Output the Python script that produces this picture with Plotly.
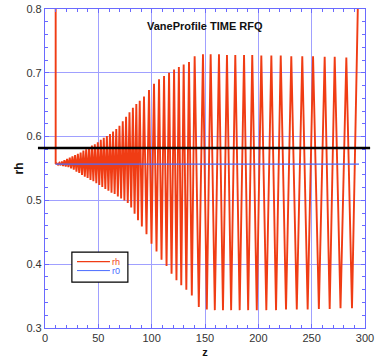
import plotly.graph_objects as go

# ---- data ----
peak_z = [11.0, 13.4, 15.8, 18.2, 20.7, 23.2, 25.7, 28.2, 30.8, 33.4, 36.0, 38.6,
          41.3, 44.0, 46.7, 49.5, 52.3, 55.1, 58.0, 60.9, 63.8, 66.8, 69.8, 72.9,
          76.0, 79.2, 82.4, 85.6, 88.8,
          92.8, 97.5, 102.2, 106.9, 111.6, 116.3, 121.0, 125.5, 130.0, 135.0, 140.3,
          148.1, 155.3, 163.1, 170.6, 178.4, 186.6, 194.3, 202.8, 212.2, 221.0,
          230.9, 241.2, 251.3, 262.2, 271.6, 282.5]
peak_rh = [0.558, 0.559, 0.561, 0.563, 0.565, 0.567, 0.569, 0.571, 0.573, 0.575, 0.578, 0.580,
           0.583, 0.586, 0.588, 0.591, 0.595, 0.598, 0.601, 0.604, 0.608, 0.612, 0.617, 0.624,
           0.631, 0.638, 0.645, 0.651, 0.656,
           0.663, 0.673, 0.683, 0.690, 0.695, 0.700, 0.705, 0.709, 0.713, 0.717, 0.726,
           0.729, 0.729, 0.729, 0.728, 0.728, 0.728, 0.728, 0.727, 0.727, 0.727,
           0.726, 0.726, 0.726, 0.725, 0.725, 0.724]
trough_z = [12.2, 14.6, 17.0, 19.45, 21.95, 24.45, 26.95, 29.5, 32.1, 34.7, 37.3, 39.95,
            42.65, 45.35, 48.1, 50.9, 53.7, 56.55, 59.45, 62.35, 65.3, 68.3, 71.35, 74.45,
            77.6, 80.8, 84.0, 87.2,
            90.8, 95.15, 99.85, 104.55, 109.25, 113.95, 118.65, 123.25, 127.75, 132.5, 137.65,
            144.2, 151.7, 159.2, 166.85, 174.5, 182.5, 190.45, 198.55, 207.5, 216.6,
            225.95, 236.05, 246.25, 256.75, 266.9, 277.05, 287.8]
trough_rh = [0.556, 0.555, 0.554, 0.553, 0.552, 0.550, 0.548, 0.545, 0.543, 0.540, 0.537, 0.535,
             0.532, 0.530, 0.527, 0.524, 0.521, 0.518, 0.515, 0.512, 0.510, 0.506, 0.503, 0.500,
             0.496, 0.489, 0.479, 0.469,
             0.459, 0.447, 0.432, 0.420, 0.407, 0.397, 0.385, 0.375, 0.367, 0.360, 0.351,
             0.333, 0.329, 0.328, 0.328, 0.328, 0.328, 0.328, 0.328, 0.328, 0.328,
             0.329, 0.329, 0.329, 0.330, 0.330, 0.331, 0.331]
start_z, start_rh = [10.0, 10.0], [0.9, 0.557]
end_z, end_rh = [294.4], [0.9]

r0_z = [10.0, 294.4]
r0 = [0.557, 0.557]

ref_level = 0.582

x_ticks = [0, 50, 100, 150, 200, 250, 300]
y_ticks = [0.3, 0.4, 0.5, 0.6, 0.7, 0.8]

series_names = ["rh", "r0"]

# ---- assemble rh series ----
ext = sorted(zip(peak_z + trough_z, peak_rh + trough_rh))
rh_z = start_z + [p[0] for p in ext] + end_z
rh = start_rh + [p[1] for p in ext] + end_rh

RED = "#f03c14"
BLUE = "#4a6cff"
AXC = "#6a6aff"
GRID = "#a0a0ff"

fig = go.Figure()
fig.add_trace(go.Scatter(x=rh_z, y=rh, mode="lines", name=series_names[0], showlegend=False,
                         line=dict(color=RED, width=1.9)))
fig.add_trace(go.Scatter(x=r0_z, y=r0, mode="lines", name=series_names[1], showlegend=False,
                         line=dict(color=BLUE, width=1.2)))

fig.add_shape(type="line", xref="paper", yref="y", x0=-0.022, x1=1.016,
              y0=ref_level, y1=ref_level, line=dict(color="black", width=2.5))

# compact legend box (paper coords)
lx0, lx1, ly0, ly1 = 0.084, 0.259, 0.144, 0.238
fig.add_shape(type="rect", xref="paper", yref="paper", x0=lx0, x1=lx1, y0=ly0, y1=ly1,
              line=dict(color="black", width=1.2), fillcolor="white", layer="above")
for i, (nm, col) in enumerate(zip(series_names, [RED, BLUE])):
    yy = 0.208 - i * 0.028
    fig.add_shape(type="line", xref="paper", yref="paper", x0=0.1, x1=0.203,
                  y0=yy, y1=yy, line=dict(color=col, width=1.4 if i == 0 else 1), layer="above")
    fig.add_annotation(text=nm, xref="paper", yref="paper", x=0.203, y=yy,
                       xanchor="left", yanchor="middle", showarrow=False,
                       font=dict(size=9, color=col))

fig.add_annotation(text="<b>VaneProfile TIME RFQ</b>", xref="paper", yref="paper",
                   x=0.5, y=0.948, xanchor="center", yanchor="middle", showarrow=False,
                   font=dict(size=11, color="#111"))

axis_common = dict(showline=True, linecolor=AXC, linewidth=1.2, mirror="ticks",
                   ticks="inside", ticklen=4, tickcolor=AXC, showgrid=True,
                   gridcolor=GRID, gridwidth=1, zeroline=False, automargin=False,
                   ticklabeloverflow="allow",
                   tickfont=dict(size=11, color="#333"))

fig.update_xaxes(range=[0, 300], tickvals=x_ticks,
                 minor=dict(ticks="inside", dtick=10, ticklen=3, tickcolor=AXC, showgrid=False),
                 title=dict(text="<b>z</b>", font=dict(size=11, color="#111"), standoff=9),
                 **axis_common)
fig.update_yaxes(range=[0.3, 0.8], tickvals=y_ticks, tickformat=".1f",
                 minor=dict(ticks="inside", dtick=0.02, ticklen=3, tickcolor=AXC, showgrid=False),
                 title=dict(text="<b>rh</b>", font=dict(size=12, color="#111"), standoff=0),
                 **axis_common)

fig.update_layout(width=376, height=358, margin=dict(l=45, r=11, t=9, b=30),
                  paper_bgcolor="white", plot_bgcolor="white",
                  font=dict(family="Liberation Sans, Arial, sans-serif"),
                  showlegend=False)

# remove the default page margin so the figure sits at the window's top-left corner
fig.write_html("out.html", config={"displayModeBar": False},
               post_script="document.body.style.margin='0';")
